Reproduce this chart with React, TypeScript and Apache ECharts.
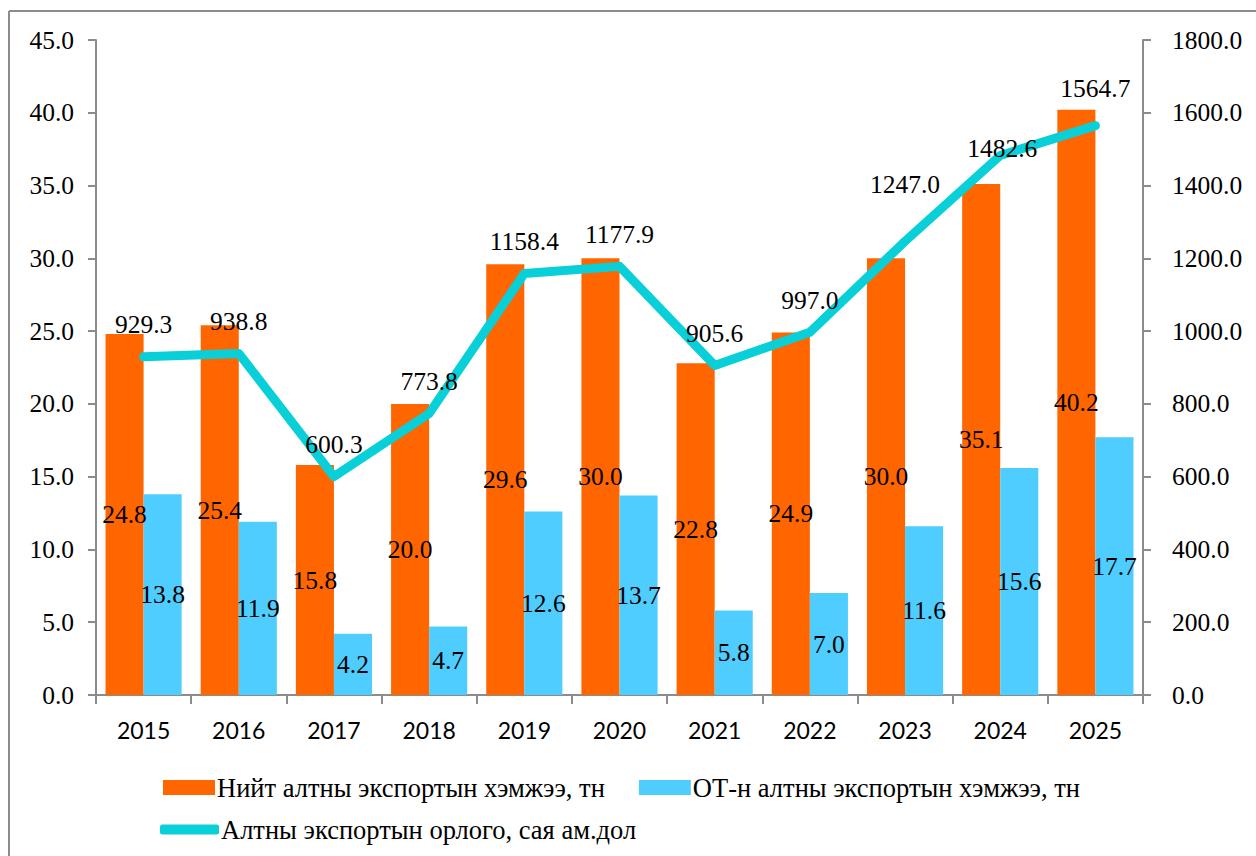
import React, { useEffect, useRef } from "react";
import * as echarts from "echarts";

const years = ["2015", "2016", "2017", "2018", "2019", "2020", "2021", "2022", "2023", "2024", "2025"];
const totalExport = [24.8, 25.4, 15.8, 20.0, 29.6, 30.0, 22.8, 24.9, 30.0, 35.1, 40.2];
const centralBankExport = [13.8, 11.9, 4.2, 4.7, 12.6, 13.7, 5.8, 7.0, 11.6, 15.6, 17.7];
const exportRevenue = [929.3, 938.8, 600.3, 773.8, 1158.4, 1177.9, 905.6, 997.0, 1247.0, 1482.6, 1564.7];

const seriesNames = [
  "Нийт алтны экспортын хэмжээ, тн",
  "ОТ-н алтны экспортын хэмжээ, тн",
  "Алтны экспортын орлого, сая ам.дол",
];

// label placement tweaks for the line labels (style only)
const lineLabelOffsets: Record<number, [number, number]> = {
  8: [0, -25],
  9: [2, 25],
  10: [0, -5],
};

const SERIF = "Liberation Serif";
const SANS = "Lato";

export default function App() {
  const ref = useRef<HTMLDivElement>(null);
  useEffect(() => {
    if (!ref.current) return;
    const chart = echarts.init(ref.current, undefined, { renderer: "svg" });
    const axisGray = "#8c8c8c";
    const lineColor = "#08CFD8";
    chart.setOption({
      animation: false,
      backgroundColor: "#ffffff",
      textStyle: { fontFamily: SERIF, color: "#000" },
      graphic: [
        { type: "line", shape: { x1: 9, y1: 11, x2: 1256, y2: 11 }, style: { stroke: "#8c8c8c", lineWidth: 2 } },
        { type: "line", shape: { x1: 9, y1: 11, x2: 9, y2: 856 }, style: { stroke: "#8c8c8c", lineWidth: 2 } },
      ],
      grid: { left: 96, right: 113, top: 40, bottom: 161, containLabel: false },
      legend: [
        {
          data: [seriesNames[0], seriesNames[1]],
          left: 158,
          top: 769,
          orient: "horizontal",
          itemWidth: 52,
          itemHeight: 15,
          itemGap: 34,
          icon: "rect",
          textStyle: { fontFamily: SERIF, fontSize: 26.5, color: "#000", padding: [0, 0, 0, -3] },
        },
        {
          data: [seriesNames[2]],
          left: 155,
          top: 811,
          itemWidth: 59,
          itemHeight: 10,
          icon: "roundRect",
          itemStyle: { color: lineColor },
          textStyle: { fontFamily: SERIF, fontSize: 26.5, color: "#000", padding: [0, 0, 0, -3] },
        },
      ],
      xAxis: {
        type: "category",
        data: years,
        axisLine: { lineStyle: { color: axisGray, width: 2 } },
        axisTick: { show: true, length: 9, lineStyle: { color: axisGray, width: 2 } },
        axisLabel: { fontFamily: SANS, fontSize: 23, color: "#000", margin: 23 },
      },
      yAxis: [
        {
          type: "value",
          min: 0,
          max: 45,
          interval: 5,
          position: "left",
          axisLine: { show: true, lineStyle: { color: axisGray, width: 2 } },
          axisTick: { show: true, length: 8, lineStyle: { color: axisGray, width: 2 } },
          splitLine: { show: false },
          axisLabel: { fontFamily: SERIF, fontSize: 25.5, color: "#000", margin: 22, formatter: (v: number) => v.toFixed(1) },
        },
        {
          type: "value",
          min: 0,
          max: 1800,
          interval: 200,
          position: "right",
          axisLine: { show: true, lineStyle: { color: axisGray, width: 2 } },
          axisTick: { show: true, length: 8, lineStyle: { color: axisGray, width: 2 } },
          splitLine: { show: false },
          axisLabel: { fontFamily: SERIF, fontSize: 25.5, color: "#000", margin: 29, formatter: (v: number) => v.toFixed(1) },
        },
      ],
      series: [
        {
          name: seriesNames[0],
          type: "bar",
          data: totalExport,
          barGap: "0%",
          barCategoryGap: "20%",
          itemStyle: { color: "#FF6600" },
          label: {
            show: true,
            position: "inside",
            fontFamily: SERIF,
            fontSize: 25.5,
            color: "#000",
            formatter: (p: any) => Number(p.value).toFixed(1),
          },
        },
        {
          name: seriesNames[1],
          type: "bar",
          data: centralBankExport,
          itemStyle: { color: "#4FCDFF" },
          label: {
            show: true,
            position: "inside",
            fontFamily: SERIF,
            fontSize: 25.5,
            color: "#000",
            formatter: (p: any) => Number(p.value).toFixed(1),
          },
        },
        {
          name: seriesNames[2],
          type: "line",
          yAxisIndex: 1,
          data: exportRevenue.map((v, i) =>
            lineLabelOffsets[i] ? { value: v, label: { offset: lineLabelOffsets[i] } } : v
          ),
          showSymbol: true,
          symbol: "circle",
          symbolSize: 2,
          z: 5,
          lineStyle: { color: lineColor, width: 9, cap: "round", join: "round" },
          itemStyle: { color: lineColor },
          label: {
            show: true,
            position: "top",
            distance: 18,
            fontFamily: SERIF,
            fontSize: 25.5,
            color: "#000",
            formatter: (p: any) => Number(p.value).toFixed(1),
          },
        },
      ],
    });
    return () => chart.dispose();
  }, []);
  return (
    <div
      ref={ref}
      style={{ position: "fixed", left: 0, top: 0, width: 1256, height: 856, background: "#fff" }}
    />
  );
}
